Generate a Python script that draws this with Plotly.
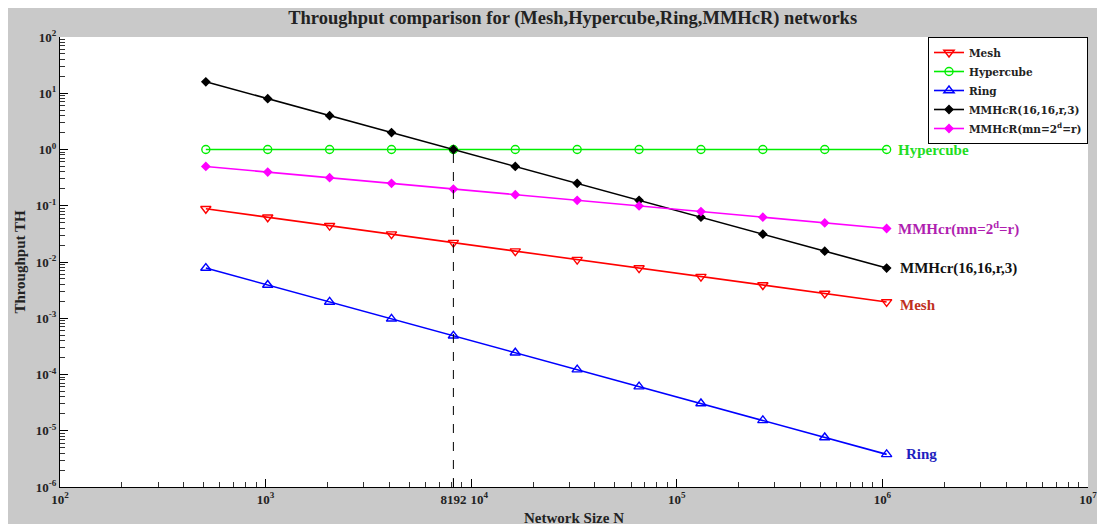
import math
import plotly.graph_objects as go

# ---- data ----
network_size = [512, 1024, 2048, 4096, 8192, 16384, 32768, 65536, 131072, 262144, 524288, 1048576]
mesh = [0.0884, 0.0625, 0.0442, 0.03125, 0.0221, 0.0156, 0.0110, 0.0078, 0.0055, 0.0039, 0.00276, 0.00195]
hypercube = [1, 1, 1, 1, 1, 1, 1, 1, 1, 1, 1, 1]
ring = [0.0078125, 0.00390625, 0.00195, 0.000977, 0.000488, 0.000244, 0.000122, 6.1e-5, 3.05e-5, 1.53e-5, 7.6e-6, 3.8e-6]
mmhcr_16 = [16, 8, 4, 2, 1, 0.5, 0.25, 0.125, 0.0625, 0.03125, 0.0156, 0.0078]
mmhcr_mn = [0.5, 0.397, 0.315, 0.25, 0.198, 0.157, 0.125, 0.0992, 0.0787, 0.0625, 0.0496, 0.0394]
crossover_N = 8192
crossover_TH = 1

NB = "\u00a0"
x_tick_vals = [1e2, 1e3, 8192, 1e4, 1e5, 1e6, 1e7]
x_tick_text = ["10<sup>2</sup>", "10<sup>3</sup>", "8192", NB * 5 + "10<sup>4</sup>",
               "10<sup>5</sup>", "10<sup>6</sup>", "10<sup>7</sup>"]
y_tick_vals = [1e-6, 1e-5, 1e-4, 1e-3, 1e-2, 1e-1, 1e0, 1e1, 1e2]
y_tick_text = ["10<sup>-6</sup>", "10<sup>-5</sup>", "10<sup>-4</sup>", "10<sup>-3</sup>", "10<sup>-2</sup>",
               "10<sup>-1</sup>", "10<sup>0</sup>", "10<sup>1</sup>", "10<sup>2</sup>"]

FONT = "Liberation Serif"

series = [
    ("Mesh", mesh, "#ff0000", "triangle-down-open", 9),
    ("Hypercube", hypercube, "#00ee00", "circle-open", 8),
    ("Ring", ring, "#0000ff", "triangle-up-open", 9),
    ("MMHcR(16,16,r,3)", mmhcr_16, "#000000", "diamond", 6),
    ("MMHcR(mn=2<sup>d</sup>=r)", mmhcr_mn, "#ff00ff", "diamond", 6),
]

fig = go.Figure()
for name, vals, color, sym, size in series:
    fig.add_trace(go.Scatter(
        x=network_size, y=vals, name=name, mode="lines+markers",
        line=dict(color=color, width=1.6),
        marker=dict(symbol=sym, size=size, color=color, line=dict(color=color, width=1.4)),
    ))

# dashed crossover line
fig.add_shape(type="line", x0=crossover_N, x1=crossover_N, y0=1e-6, y1=crossover_TH,
              xref="x", yref="y", line=dict(color="black", width=1, dash="dash"))

# end labels (annotation positions on log axes are given in log10 units)
labels = [
    ("Hypercube", hypercube[-1], "#22dd22", 9, 0),
    ("MMHcr(mn=2<sup>d</sup>=r)", mmhcr_mn[-1], "#b01fb0", 9, 0),
    ("MMHcr(16,16,r,3)", mmhcr_16[-1], "#111111", 11, 0),
    ("Mesh", mesh[-1], "#c0301e", 11, -3),
    ("Ring", ring[-1], "#1f1fc0", 17, 0),
]
for text, yv, color, xs, ys in labels:
    fig.add_annotation(x=math.log10(network_size[-1]), y=math.log10(yv), xref="x", yref="y",
                       text="<b>" + text + "</b>",
                       showarrow=False, xanchor="left", yanchor="middle", xshift=xs, yshift=ys,
                       font=dict(family=FONT, size=15, color=color))

minor_vals = [k * 10 ** n for n in range(-6, 7) for k in range(2, 10)]

fig.update_layout(
    width=1105, height=524,
    paper_bgcolor="#c9c9c9", plot_bgcolor="white",
    margin=dict(l=52, r=25, t=29, b=45),
    title=dict(text="<b>Throughput comparison for (Mesh,Hypercube,Ring,MMHcR) networks</b>",
               x=0.511, xanchor="center", y=0.981, yanchor="middle",
               font=dict(family=FONT, size=18.5, color="#222")),
    showlegend=True,
    legend=dict(x=1, xanchor="right", y=1, yanchor="top", bgcolor="white",
                bordercolor="black", borderwidth=1, itemwidth=30, tracegroupgap=0,
                font=dict(family="DejaVu Serif", size=10.5, color="#222", weight="bold")),
    xaxis=dict(type="log", range=[2, 7], showgrid=False, zeroline=False, automargin=False,
               showline=True, linecolor="black", linewidth=1, mirror=False,
               tickmode="array", tickvals=x_tick_vals, ticktext=x_tick_text, tickangle=0,
               ticks="inside", ticklen=8, tickcolor="black",
               minor=dict(tickmode="array", tickvals=minor_vals, ticks="inside", ticklen=5, tickcolor="#333", showgrid=False),
               tickfont=dict(family=FONT, size=13, color="#222", weight="bold"),
               title=dict(text="<b>Network Size N</b>", standoff=6,
                          font=dict(family=FONT, size=15, color="#222"))),
    yaxis=dict(type="log", range=[-6, 2], showgrid=False, zeroline=False, automargin=False,
               showline=True, linecolor="black", linewidth=1, mirror=False,
               tickmode="array", tickvals=y_tick_vals, ticktext=y_tick_text,
               ticks="inside", ticklen=8, tickcolor="black",
               minor=dict(tickmode="array", tickvals=minor_vals, ticks="inside", ticklen=5, tickcolor="#333", showgrid=False),
               tickfont=dict(family=FONT, size=13, color="#222", weight="bold"),
               title=dict(text="<b>Throughput TH</b>", standoff=6,
                          font=dict(family=FONT, size=15, color="#222"))),
)

fig.write_html("out.html")
